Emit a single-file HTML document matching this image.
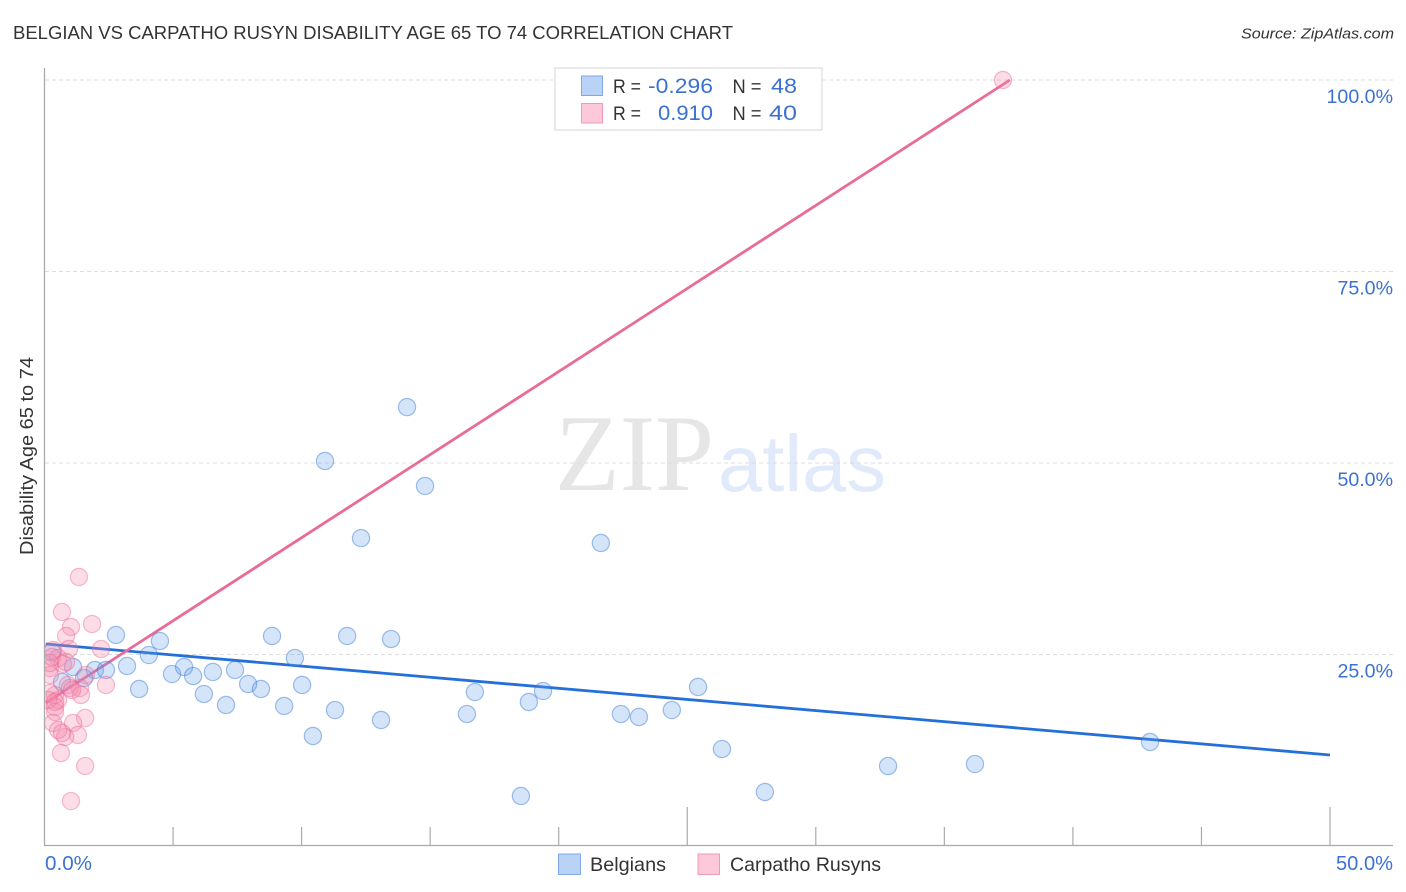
<!DOCTYPE html>
<html lang="en">
<head>
<meta charset="utf-8">
<title>Belgian vs Carpatho Rusyn Disability Age 65 to 74 Correlation Chart</title>
<style>
html,body{margin:0;padding:0;background:#fff;}
body{width:1406px;height:892px;overflow:hidden;}
svg{display:block;font-family:"Liberation Sans",sans-serif;}
</style>
</head>
<body>
<svg id="chart" width="1406" height="892" viewBox="0 0 1406 892" xmlns="http://www.w3.org/2000/svg">
  <defs>
    <clipPath id="plot-clip"><rect x="45" y="60" width="1348" height="785"/></clipPath>
  </defs>
  <rect x="0" y="0" width="1406" height="892" fill="#ffffff"/>
  <text x="13" y="39" font-size="18.5" fill="#333333" textLength="720" lengthAdjust="spacingAndGlyphs">BELGIAN VS CARPATHO RUSYN DISABILITY AGE 65 TO 74 CORRELATION CHART</text>
  <text x="1394" y="38.500" font-size="15" font-style="italic" fill="#333333" text-anchor="end" textLength="153" lengthAdjust="spacingAndGlyphs">Source: ZipAtlas.com</text>

  <g>
    <text x="555" y="490" font-family="'Liberation Serif',serif" font-size="109" fill="#e6e6e6" textLength="159" lengthAdjust="spacingAndGlyphs">ZIP</text>
    <text x="718" y="491" font-size="80" fill="#e0eafa" textLength="168" lengthAdjust="spacingAndGlyphs">atlas</text>
  </g>

  <g id="grid"></g>
  <g id="trends"></g>
  <g id="points-belgians" clip-path="url(#plot-clip)"></g>
  <g id="points-rusyns" clip-path="url(#plot-clip)"></g>
  <g id="axes"></g>
  <g id="labels"></g>

  <text transform="translate(33 456) rotate(-90)" font-size="18.5" fill="#333333" text-anchor="middle" textLength="198" lengthAdjust="spacingAndGlyphs">Disability Age 65 to 74</text>

  <g>
    <rect x="555" y="68" width="267" height="62" fill="#ffffff" stroke="#dddddd" stroke-width="1.2"/>
    <rect x="581.500" y="76" width="21" height="19.500" fill="#b9d3f7" stroke="#7fa9e6" stroke-width="1"/>
    <rect x="581.500" y="103.500" width="21" height="19.500" fill="#fcc8da" stroke="#f09ab8" stroke-width="1"/>
    <text x="613" y="93" font-size="19.500" fill="#333333" textLength="28" lengthAdjust="spacingAndGlyphs">R =</text>
    <text x="713" y="93" font-size="21.500" fill="#3b72d1" text-anchor="end" textLength="65" lengthAdjust="spacingAndGlyphs">-0.296</text>
    <text x="732.500" y="93" font-size="19.500" fill="#333333" textLength="29" lengthAdjust="spacingAndGlyphs">N =</text>
    <text x="797" y="93" font-size="21.500" fill="#3b72d1" text-anchor="end" textLength="26" lengthAdjust="spacingAndGlyphs">48</text>
    <text x="613" y="120" font-size="19.500" fill="#333333" textLength="28" lengthAdjust="spacingAndGlyphs">R =</text>
    <text x="713" y="120" font-size="21.500" fill="#3b72d1" text-anchor="end" textLength="55" lengthAdjust="spacingAndGlyphs">0.910</text>
    <text x="732.500" y="120" font-size="19.500" fill="#333333" textLength="29" lengthAdjust="spacingAndGlyphs">N =</text>
    <text x="797" y="120" font-size="21.500" fill="#3b72d1" text-anchor="end" textLength="28" lengthAdjust="spacingAndGlyphs">40</text>
  </g>

  <g>
    <rect x="558.500" y="854" width="22" height="20.500" fill="#b9d3f7" stroke="#7fa9e6" stroke-width="1"/>
    <text x="590" y="871" font-size="19.500" fill="#333333" textLength="76" lengthAdjust="spacingAndGlyphs">Belgians</text>
    <rect x="698" y="854" width="21.500" height="20.500" fill="#fcc8da" stroke="#f09ab8" stroke-width="1"/>
    <text x="730" y="871" font-size="19.500" fill="#333333" textLength="151" lengthAdjust="spacingAndGlyphs">Carpatho Rusyns</text>
  </g>
</svg>
<script>
const yGridValues = [25, 50, 75, 100];
const yTickLabels = ["25.0%", "50.0%", "75.0%", "100.0%"];
const xTickValues = [0, 5, 10, 15, 20, 25, 30, 35, 40, 45, 50];
const xTickLabels = ["0.0%", "50.0%"];

const belgianX = [14.10,10.91,14.80,12.31,21.64,2.78,4.49,4.06,8.85,11.77,13.48,9.74,3.21,1.11,1.96,2.39,1.54,4.96,5.43,5.78,6.55,7.41,6.20,7.06,7.92,8.42,10.02,9.32,11.30,10.44,13.09,3.68,16.74,16.43,18.84,19.39,22.42,23.12,24.40,25.42,26.35,28.02,18.53,32.81,36.19,43.00,0.29,0.68];
const belgianY = [57.30,50.26,47.00,40.20,39.56,27.55,26.76,24.93,27.42,27.42,27.02,24.54,23.50,23.37,22.98,22.98,21.93,22.45,23.37,22.19,22.72,22.98,19.84,18.41,21.15,20.50,21.02,18.28,17.75,14.36,16.45,20.50,20.10,17.23,18.80,20.23,17.23,16.84,17.75,20.76,12.66,7.05,6.53,10.44,10.70,13.58,25.33,21.41];

const rusynX = [1.34,0.68,1.85,1.03,0.84,2.20,0.95,2.39,1.58,1.11,1.30,0.80,0.64,1.58,1.03,0.33,0.53,0.72,0.21,0.21,1.61,0.91,1.38,1.42,0.41,0.53,0.21,0.41,0.41,0.33,0.53,0.68,0.21,0.14,0.41,0.99,0.29,0.84,1.07,37.28];
const rusynY = [35.12,30.55,28.98,28.59,27.42,25.72,25.72,21.02,16.71,16.06,14.49,14.23,12.14,10.44,5.87,25.59,24.54,23.76,23.24,22.32,22.32,21.02,20.63,19.71,19.71,19.06,19.97,18.15,17.49,16.06,15.14,14.75,23.89,19.06,18.80,20.63,24.67,24.02,20.37,100];

const belgianTrendX = [0.05, 50];
const belgianTrendY = [26.37, 11.88];
const rusynTrendX = [0.05, 37.55];
const rusynTrendY = [18.67, 100];

const NS = "http://www.w3.org/2000/svg";
function xScale(v){ return 44.5 + v * 25.71; }
function yScale(v){ return 654.5 - (v - 25) * 7.66; }
function make(tag, parent, attrs){
  const el = document.createElementNS(NS, tag);
  for (const k in attrs) el.setAttribute(k, attrs[k]);
  parent.appendChild(el);
  return el;
}

const gridG = document.getElementById("grid");
yGridValues.forEach(function(v){
  const line = make("line", gridG, {x1:45, x2:1393, y1:yScale(v), y2:yScale(v), stroke:"#dcdcdc", "stroke-width":1, "stroke-dasharray":"4 3"});
  
  
});

const axesG = document.getElementById("axes");
const yAxis = make("line", axesG, {x1:44.5, x2:44.5, y1:68, y2:846, stroke:"#aaaaaa", "stroke-width":1.3});


const xAxis = make("line", axesG, {x1:44, x2:1393, y1:845.5, y2:845.5, stroke:"#aaaaaa", "stroke-width":1.3});


xTickValues.forEach(function(v){
  if (v === 0) return;
  const tall = v % 25 === 0;
  const tick = make("line", axesG, {x1:xScale(v), x2:xScale(v), y1:tall ? 807 : 827, y2:845.5, stroke:"#aaaaaa", "stroke-width":1.2});
  
  
});

const trendG = document.getElementById("trends");
const blueTrend = make("line", trendG, {x1:xScale(belgianTrendX[0]), y1:yScale(belgianTrendY[0]), x2:xScale(belgianTrendX[1]), y2:yScale(belgianTrendY[1]), stroke:"#2470d8", "stroke-width":2.8});


const pinkTrend = make("line", trendG, {x1:xScale(rusynTrendX[0]), y1:yScale(rusynTrendY[0]), x2:xScale(rusynTrendX[1]), y2:yScale(rusynTrendY[1]), stroke:"#e86b98", "stroke-width":2.8});



const blueG = document.getElementById("points-belgians");
belgianX.forEach(function(x, i){
  const c = make("circle", blueG, {cx:xScale(x), cy:yScale(belgianY[i]), r:8.6, fill:"rgba(100,160,235,0.28)", stroke:"rgba(50,115,210,0.45)", "stroke-width":1.2});
  
  
});

const pinkG = document.getElementById("points-rusyns");
rusynX.forEach(function(x, i){
  const c = make("circle", pinkG, {cx:xScale(x), cy:yScale(rusynY[i]), r:8.6, fill:"rgba(245,140,175,0.3)", stroke:"rgba(232,100,145,0.42)", "stroke-width":1.2});
  
  
});

const labelG = document.getElementById("labels");
yGridValues.forEach(function(v, i){
  const t = make("text", labelG, {x:1393, y:yScale(v) + 23, "font-size":19.6, fill:"#3b72d1", "text-anchor":"end"});
  t.textContent = yTickLabels[i];
  
  
});
const xLabelLeft = make("text", labelG, {x:45, y:870, "font-size":20, fill:"#3b72d1", textLength:47, lengthAdjust:"spacingAndGlyphs"});
xLabelLeft.textContent = xTickLabels[0];


const xLabelRight = make("text", labelG, {x:1393, y:870, "font-size":20, fill:"#3b72d1", "text-anchor":"end", textLength:57, lengthAdjust:"spacingAndGlyphs"});
xLabelRight.textContent = xTickLabels[1];


</script>
</body>
</html>
